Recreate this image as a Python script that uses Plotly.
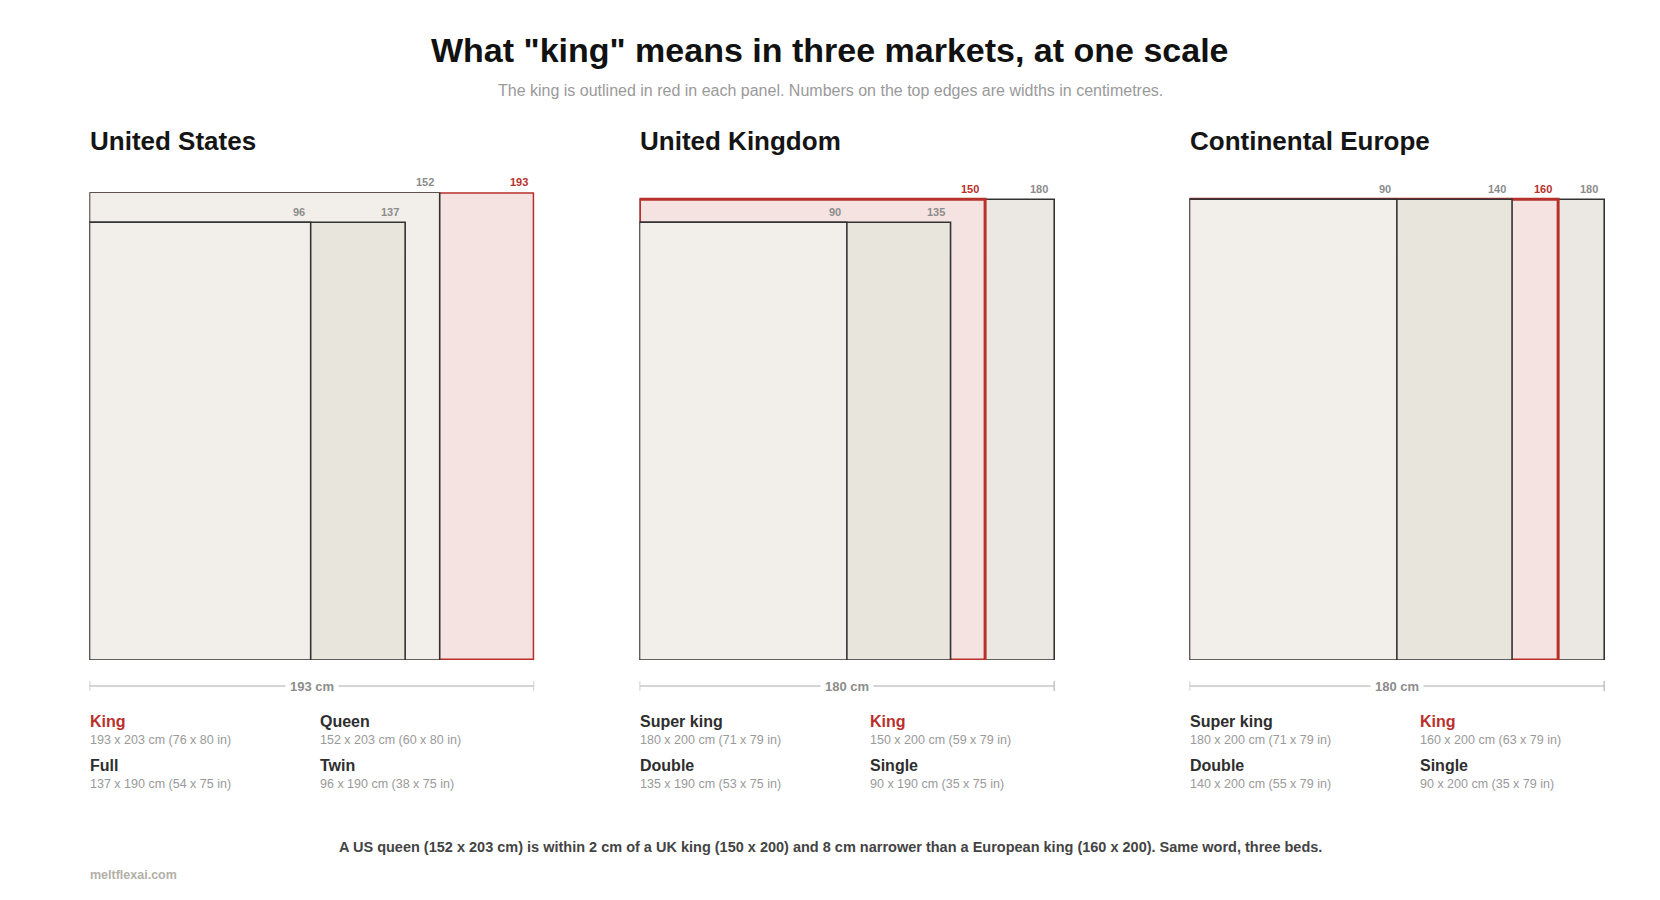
import plotly.graph_objects as go

# ---- bed sizes per market (cm), largest first ----
MARKETS = ["United States", "United Kingdom", "Continental Europe"]

US_NAMES = ["King", "Queen", "Full", "Twin"]
US_W = [193, 152, 137, 96]
US_L = [203, 203, 190, 190]
US_IN = ["76 x 80", "60 x 80", "54 x 75", "38 x 75"]

UK_NAMES = ["Super king", "King", "Double", "Single"]
UK_W = [180, 150, 135, 90]
UK_L = [200, 200, 190, 190]
UK_IN = ["71 x 79", "59 x 79", "53 x 75", "35 x 75"]

EU_NAMES = ["Super king", "King", "Double", "Single"]
EU_W = [180, 160, 140, 90]
EU_L = [200, 200, 200, 200]
EU_IN = ["71 x 79", "63 x 79", "55 x 79", "35 x 79"]

KING = "King"

TITLE = 'What "king" means in three markets, at one scale'
SUBTITLE = "The king is outlined in red in each panel. Numbers on the top edges are widths in centimetres."
FOOTER = ("A US queen (152 x 203 cm) is within 2 cm of a UK king (150 x 200) and 8 cm narrower "
          "than a European king (160 x 200). Same word, three beds.")
SOURCE = "meltflexai.com"

# ---- layout constants (page pixels) ----
PAGE_W, PAGE_H = 1660, 900
OFF = 8                        # default body margin of the html page
W, H = PAGE_W - OFF, PAGE_H - OFF
K = 2.304                      # px per cm, same for all panels
LEFTS = [89.5, 639.5, 1189.5]
BASE = 660                     # bottom edge of beds
XMAX = max(US_W + UK_W + EU_W)
YMAX = max(US_L + UK_L + EU_L)
FONT = "Liberation Sans, Arial, Helvetica, sans-serif"
RED = "#b8302b"
EDGE = "#333333"
FILLS = ["#ebe8e3", "#f2efeb", "#e8e5dd", "#f2efea"]
KING_FILL = "#f4e3e1"


def px(v):
    return (v - OFF) / W


def py(v):
    return 1 - (v - OFF) / H


panels = [(US_NAMES, US_W, US_L, US_IN), (UK_NAMES, UK_W, UK_L, UK_IN), (EU_NAMES, EU_W, EU_L, EU_IN)]

fig = go.Figure()
shapes, ann = [], []
ydom = [py(BASE), py(BASE - K * YMAX)]

for p, (names, ws, ls, ins) in enumerate(panels):
    sx = "" if p == 0 else str(p + 1)
    xa, ya = "x" + sx, "y" + sx
    left = LEFTS[p]
    fig.add_trace(go.Scatter(x=[0, XMAX], y=[0, YMAX], mode="markers", marker=dict(opacity=0),
                             hoverinfo="skip", showlegend=False, xaxis=xa, yaxis=ya))
    fig.layout["xaxis" + sx] = dict(domain=[px(left), px(left + K * XMAX)], range=[0, XMAX],
                                    visible=False, fixedrange=True, anchor=ya)
    fig.layout["yaxis" + sx] = dict(domain=ydom, range=[0, YMAX], visible=False,
                                    fixedrange=True, anchor=xa)

    # beds, largest first so smaller ones sit on top
    for i, (n, w, l) in enumerate(zip(names, ws, ls)):
        king = n == KING
        shapes.append(dict(type="rect", xref=xa, yref=ya, x0=0, y0=0, x1=w, y1=l,
                           fillcolor=KING_FILL if king else FILLS[i],
                           line=dict(color=RED if king else EDGE, width=3 if king else 1.6)))
        ann.append(dict(xref=xa, yref=ya, x=w, y=l, text=str(w), showarrow=False,
                        xanchor="right", yanchor="bottom", xshift=-4, yshift=2,
                        font=dict(family=FONT, size=11, weight=700, color=RED if king else "#8c8c8c")))

    # panel title
    ann.append(dict(xref=xa, yref="paper", x=0, y=py(141), text=MARKETS[p], showarrow=False,
                    xanchor="left", yanchor="middle", xshift=-2,
                    font=dict(family=FONT, size=26, weight=700, color="#151515")))

    # scale bar
    wmax = ws[0]
    yb = py(686)
    shapes.append(dict(type="line", xref=xa, yref="paper", x0=0, x1=wmax, y0=yb, y1=yb,
                       line=dict(color="#c6c6c6", width=1.6)))
    for xe in (0, wmax):
        shapes.append(dict(type="line", xref=xa, yref="paper", x0=xe, x1=xe,
                           y0=py(681), y1=py(691), line=dict(color="#c6c6c6", width=1.6)))
    ann.append(dict(xref=xa, yref="paper", x=wmax / 2, y=yb, text=f"{wmax} cm", showarrow=False,
                    xanchor="center", yanchor="middle", bgcolor="white", borderpad=4,
                    font=dict(family=FONT, size=13, weight=700, color="#8c8c8c")))

    # legend: two columns, row-major
    for i, (n, w, l, inch) in enumerate(zip(names, ws, ls, ins)):
        row, col = divmod(i, 2)
        yn = 721 + row * 44
        king = n == KING
        ann.append(dict(xref=xa, yref="paper", x=0, y=py(yn), text=n, showarrow=False,
                        xanchor="left", yanchor="middle", xshift=col * 230 - 2,
                        font=dict(family=FONT, size=16, weight=700,
                                  color=RED if king else "#2e2e2e")))
        ann.append(dict(xref=xa, yref="paper", x=0, y=py(yn + 18.5),
                        text=f"{w} x {l} cm ({inch} in)", showarrow=False,
                        xanchor="left", yanchor="middle", xshift=col * 230 - 2,
                        font=dict(family=FONT, size=12.5, color="#9a9a9a")))

ann += [
    dict(xref="paper", yref="paper", x=px(830), y=py(50), text=TITLE, showarrow=False,
         xanchor="center", yanchor="middle", font=dict(family=FONT, size=34, weight=700, color="#111111")),
    dict(xref="paper", yref="paper", x=px(830), y=py(90), text=SUBTITLE, showarrow=False,
         xanchor="center", yanchor="middle", font=dict(family=FONT, size=16, color="#9a9a9a")),
    dict(xref="paper", yref="paper", x=px(830), y=py(847), text=FOOTER, showarrow=False,
         xanchor="center", yanchor="middle", font=dict(family=FONT, size=14.5, weight=700, color="#444444")),
    dict(xref="paper", yref="paper", x=px(88), y=py(875), text=SOURCE, showarrow=False,
         xanchor="left", yanchor="middle", font=dict(family=FONT, size=12.5, weight=700, color="#b3b0a8")),
]

fig.update_layout(width=W, height=H, margin=dict(l=0, r=0, t=0, b=0),
                  paper_bgcolor="white", plot_bgcolor="white",
                  shapes=shapes, annotations=ann, showlegend=False)

fig.write_html("out.html", config={"displayModeBar": False})
